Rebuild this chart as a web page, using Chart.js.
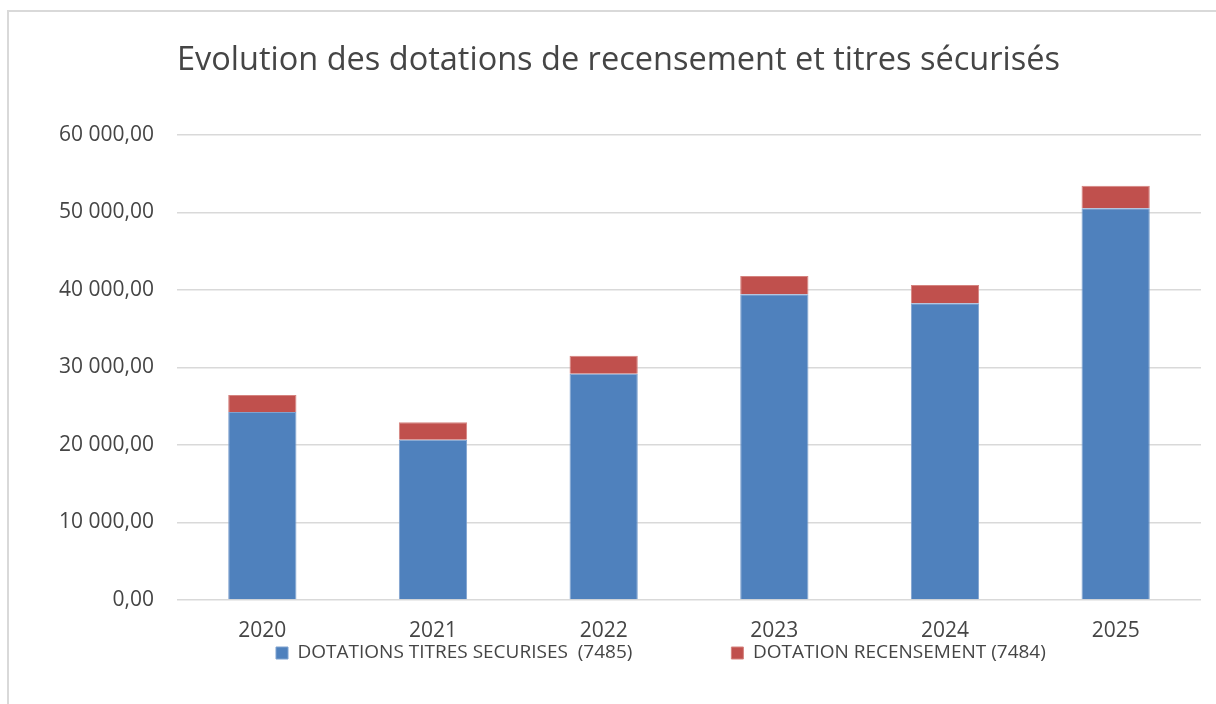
<!DOCTYPE html>
<html>
<head>
<meta charset="utf-8">
<script src="https://cdn.jsdelivr.net/npm/chart.js@4"></script>
<style>
  html, body { margin: 0; padding: 0; background: #fff; overflow: hidden; }
  #wrap { position: relative; width: 1216px; height: 704px; overflow: hidden; }
  #frame { position: absolute; left: 7px; top: 10px; right: 0; bottom: -10px;
           border-left: 2px solid #d9d9d9; border-top: 2px solid #d9d9d9; }
  canvas { position: absolute; left: 0; top: 0; }
</style>
</head>
<body>
<div id="wrap">
  <div id="frame"></div>
  <!-- canvas un peu plus haut que la page : le bas (vide) est coupé -->
  <canvas id="chart" width="1216" height="728"></canvas>
</div>
<script>
// valeurs
const annees = ['2020', '2021', '2022', '2023', '2024', '2025'];
const titresSecurises = [24260, 20680, 29200, 39450, 38280, 50540];
const recensement = [2190, 2250, 2320, 2360, 2370, 2920];
const ticksY = [0, 10000, 20000, 30000, 40000, 50000, 60000];

const GRIS_TXT = '#454545';
const GRIS_GRILLE = '#d9d9d9';

function formatFr(v) {
    const [ent, dec] = v.toFixed(2).split('.');
    return ent.replace(/\B(?=(\d{3})+(?!\d))/g, ' ') + ',' + dec;
}

Chart.defaults.font.family = '"Open Sans", sans-serif';
Chart.defaults.color = GRIS_TXT;

new Chart(document.getElementById('chart'), {
    type: 'bar',
    data: {
        labels: annees,
        datasets: [
            {
                label: 'DOTATIONS TITRES SECURISES  (7485)',
                data: titresSecurises,
                backgroundColor: '#4f81bd',
                borderColor: '#7fa2cf',
                borderWidth: 1,
            },
            {
                label: 'DOTATION RECENSEMENT (7484)',
                data: recensement,
                backgroundColor: '#c0504d',
                borderColor: '#d5837f',
                borderWidth: 1,
            },
        ],
    },
    options: {
        responsive: false,
        animation: false,
        layout: { padding: { left: 0, right: 15, top: 0, bottom: 0 } },
        datasets: { bar: { categoryPercentage: 1, barPercentage: 0.4 } },
        plugins: {
            title: {
                display: true,
                text: 'Evolution des dotations de recensement et titres sécurisés',
                fullSize: false,
                align: 'start',
                color: GRIS_TXT,
                font: { size: 32.5, weight: 'normal' },
                padding: { top: 41, bottom: 55 },
            },
            legend: {
                position: 'bottom',
                fullSize: false,
                align: 'start',
                labels: {
                    font: { size: 19 },
                    boxWidth: 12,
                    boxHeight: 12,
                    padding: 99,
                    color: GRIS_TXT,
                },
            },
            tooltip: { enabled: false },
        },
        scales: {
            x: {
                stacked: true,
                grid: { display: false, drawTicks: false },
                border: { display: false },
                // labels en mode mirror pour que la légende puisse remonter sous les années
                ticks: { font: { size: 21 }, mirror: true, padding: -43.6, color: GRIS_TXT },
                afterFit: (s) => { s.height = -55.5; },
            },
            y: {
                stacked: true,
                min: 0,
                max: 60000,
                afterBuildTicks: (s) => { s.ticks = ticksY.map(v => ({ value: v })); },
                grid: { color: GRIS_GRILLE, lineWidth: 1.5, drawTicks: false },
                border: { display: false },
                ticks: { font: { size: 21 }, padding: 23, color: GRIS_TXT, callback: (v) => formatFr(v) },
                afterFit: (s) => { s.width = 177; },
            },
        },
    },
});
</script>
</body>
</html>
